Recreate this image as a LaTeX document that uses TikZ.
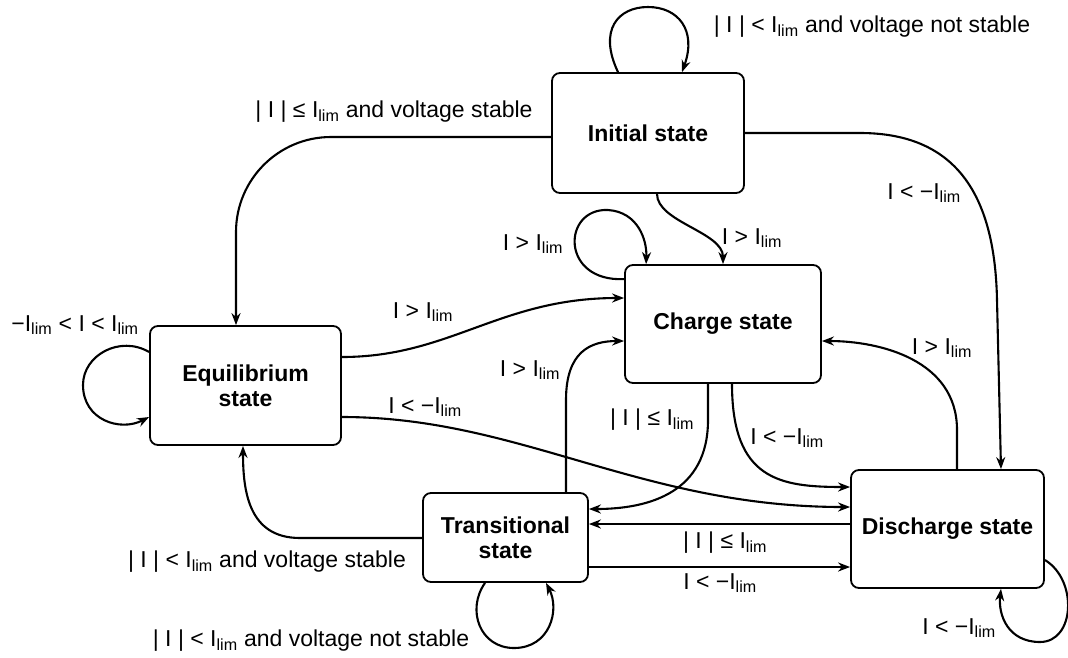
\documentclass[tikz,border=0pt]{standalone}
\usepackage{fontspec}
\setmainfont{Liberation Sans}
\usetikzlibrary{arrows.meta,calc}
\newcommand\Il{I\textsubscript{lim}}
\begin{document}
\begin{tikzpicture}[x=1pt,y=-1pt,
  state/.style={draw,line width=1.8pt,rounded corners=8pt,inner sep=0pt,align=center,font=\fontsize{23}{25}\selectfont\bfseries},
  edge/.style={draw,line width=2.1pt,-{Stealth[length=12pt,width=9pt]}},
  lab/.style={inner sep=0pt,font=\fontsize{23}{25}\selectfont}]
\useasboundingbox (0,0) rectangle (1068,657);
\node[state,minimum width=192pt,minimum height=120pt] (init) at (648,133) {Initial state};
\node[state,minimum width=196pt,minimum height=118pt] (chg) at (723,324) {Charge state};
\node[state,minimum width=191pt,minimum height=119pt] (eq) at (245.5,385.5) {Equilibrium\\state};
\node[state,minimum width=165pt,minimum height=89pt] (tr) at (505.5,537.5) {Transitional\\state};
\node[state,minimum width=193pt,minimum height=118pt] (dis) at (947.5,529) {Discharge state};
% edges
\draw[edge] ($(init.north)+(-30,0)$) .. controls (598,30) and (618,7) .. (648,7) .. controls (678,7) and (697,30) .. ($(init.north)+(34,0)$);
\draw[edge,rounded corners=95pt] ($(init.west)+(0,4)$) -| ($(eq.north)+(-9.5,0)$);
\draw[edge] (init.east) -- (860,133) .. controls (960,133) and (995,200) .. (997,300) -- ($(dis.north)+(53.5,0)$);
\draw[edge] ($(init.south)+(9,0)$) .. controls (657,222) and (723,232) .. (chg.north);
\draw[edge] ($(chg.north west)+(0,15)$) .. controls (560,282) and (562,208) .. (608,210) .. controls (638,212) and (647,240) .. ($(chg.north west)+(22,0)$);
\draw[edge] ($(eq.east)+(0,-28.5)$) .. controls (450,357) and (500,298) .. ($(chg.west)+(0,-26)$);
\draw[edge] ($(eq.west)+(0,-33.5)$) .. controls (120,335) and (83,355) .. (83,385) .. controls (83,420) and (120,432) .. ($(eq.west)+(0,31.5)$);
\draw[edge] ($(eq.east)+(0,31.5)$) .. controls (520,417) and (640,507) .. ($(dis.west)+(0,-22)$);
\draw[edge] ($(tr.west)+(0,0.5)$) -- (300,538) .. controls (248,538) and (243,490) .. ($(eq.south)+(-2.5,0)$);
\draw[edge] ($(tr.south)+(-20.5,0)$) .. controls (466,610) and (480,648) .. (514,648) .. controls (550,648) and (560,610) .. ($(tr.south)+(40.5,0)$);
\draw[edge] ($(tr.north)+(60.5,0)$) -- (566,400) .. controls (566,352) and (590,341) .. ($(chg.west)+(0,17)$);
\draw[edge] ($(chg.south)+(-15,0)$) -- (708,420) .. controls (708,492) and (650,509) .. ($(tr.east)+(0,-28.5)$);
\draw[edge] ($(chg.south)+(9,0)$) .. controls (732,480) and (780,487) .. ($(dis.west)+(0,-42)$);
\draw[edge] ($(dis.north)+(9.5,0)$) -- (957,430) .. controls (957,360) and (880,341) .. ($(chg.east)+(0,17)$);
\draw[edge] ($(dis.west)+(0,-5)$) -- ($(tr.east)+(0,-13.5)$);
\draw[edge] ($(tr.east)+(0,29.5)$) -- ($(dis.west)+(0,38)$);
\draw[edge] ($(dis.east)+(0,31)$) .. controls (1078,580) and (1075,642) .. (1040,642) .. controls (1008,642) and (998,615) .. ($(dis.south)+(53.5,0)$);
% labels
\node[lab] (l1) at (872,27) {| I | < \Il{} and voltage not stable};
\node[lab] (l2) at (394,112) {| I | ≤ \Il{} and voltage stable};
\node[lab] (l3) at (924,193) {I < −\Il};
\node[lab] (l4) at (752,238) {I > \Il};
\node[lab] (l5) at (533,244) {I > \Il};
\node[lab] (l6) at (423,312) {I > \Il};
\node[lab] (l7) at (75,325) {−\Il{} < I < \Il};
\node[lab] (l8) at (425,407) {I < −\Il};
\node[lab] (l9) at (530,370) {I > \Il};
\node[lab] (l10) at (652,420) {| I | ≤ \Il};
\node[lab] (l11) at (787,438) {I < −\Il};
\node[lab] (l12) at (942,348) {I > \Il};
\node[lab] (l13) at (725,543) {| I | ≤ \Il};
\node[lab] (l14) at (720,583) {I < −\Il};
\node[lab] (l15) at (959,628) {I < −\Il};
\node[lab] (l16) at (267,562) {| I | < \Il{} and voltage stable};
\node[lab] (l17) at (311,641) {| I | < \Il{} and voltage not stable};
\end{tikzpicture}
\end{document}
